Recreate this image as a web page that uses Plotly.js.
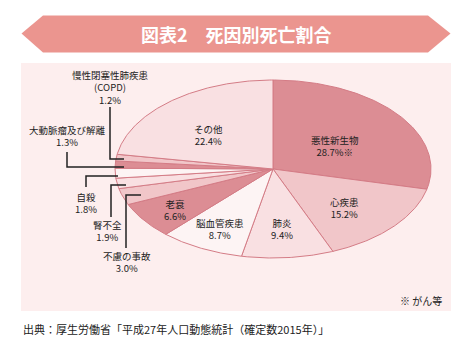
<!DOCTYPE html>
<html>
<head>
<meta charset="utf-8">
<script src="https://cdn.plot.ly/plotly-3.0.1.min.js"></script>
<style>html,body{margin:0;padding:0;background:#fff;}#chart{width:472px;height:343px;}</style>
</head>
<body>
<div id="chart"></div>
<script>
// ---- data ----
var categories = ['悪性新生物','心疾患','肺炎','脳血管疾患','老衰','不慮の事故','腎不全','自殺','大動脈瘤及び解離','慢性閉塞性肺疾患<br>(COPD)','その他'];
var values = [28.7, 15.2, 9.4, 8.7, 6.6, 3.0, 1.9, 1.8, 1.3, 1.2, 22.4];
var suffixes = ['※','','','','','','','','','',''];
var titleText = '図表2　死因別死亡割合';
var noteText = '※ がん等';
var sourceText = '出典：厚生労働省「平成27年人口動態統計（確定数2015年）」';

// ---- styles / layout ----
var W = 472, H = 343;
var CX = 273, CY = 169, RX = 158, RY = 89;
var palette = ['#dc8d94', '#f1c6c9', '#f9e0e2', '#fdf4f4'];
var edge = '#d47c86';
var FONT = '"Noto Sans CJK JP", "Noto Sans", sans-serif';
// label positions (pixels) for each category
var labelPos = [[335,146],[344,208],[282,229],[220,229],[175,210],[127,262],[107,231],[86,203],[67,136],[110,87],[208,135]];
// leader line paths (pixels) for outside labels
var leaders = {
  5: [[141,195],[126,195],[126,248]],
  6: [[126,185],[111,185],[111,217]],
  7: [[118,176],[86,176],[86,187]],
  8: [[124,167],[67,167],[67,152]],
  9: [[124,159],[110,159],[110,107]]
};

function px(x){ return x / W; }
function py(y){ return 1 - y / H; }

var total = values.reduce(function(a,b){return a+b;},0);
var traces = [];
var cum = 0;
for (var i = 0; i < values.length; i++) {
  var a0 = cum / total * 2 * Math.PI;
  cum += values[i];
  var a1 = cum / total * 2 * Math.PI;
  var xs = [0], ys = [0];
  var n = Math.max(4, Math.ceil((a1 - a0) / 0.01));
  for (var k = 0; k <= n; k++) {
    var t = a0 + (a1 - a0) * k / n;
    xs.push(Math.sin(t)); ys.push(Math.cos(t));
  }
  xs.push(0); ys.push(0);
  traces.push({
    type: 'scatter', mode: 'lines', x: xs, y: ys, fill: 'toself',
    fillcolor: palette[i % 4], line: {color: edge, width: 1},
    hoverinfo: 'text', text: categories[i], showlegend: false
  });
}

var shapes = [];
// panel
shapes.push({type:'rect', xref:'paper', yref:'paper', x0:px(21), x1:px(451), y0:py(63), y1:py(311),
  fillcolor:'#fdeeee', line:{width:0}, layer:'below'});
// banner
var bp = [[21.5,33.5],[43,15.5],[428,15.5],[450.5,33.5],[428,52.5],[43,52.5]];
var path = bp.map(function(p,j){return (j?'L':'M') + px(p[0]) + ',' + py(p[1]);}).join(' ') + ' Z';
shapes.push({type:'path', xref:'paper', yref:'paper', path:path, fillcolor:'#eb958f', line:{width:0}, layer:'below'});
// leaders
Object.keys(leaders).forEach(function(key){
  var pts = leaders[key];
  var p = pts.map(function(q,j){return (j?'L':'M') + px(q[0]) + ',' + py(q[1]);}).join(' ');
  shapes.push({type:'path', xref:'paper', yref:'paper', path:p, line:{color:'#222', width:1.5}});
});

var annotations = [];
for (var i = 0; i < categories.length; i++) {
  annotations.push({
    xref:'paper', yref:'paper', x:px(labelPos[i][0]), y:py(labelPos[i][1]),
    xanchor:'center', yanchor:'middle', showarrow:false, align:'center',
    text: categories[i] + '<br>' + values[i].toFixed(1) + '%' + suffixes[i],
    font:{family:FONT, size:9.5, color:'#222'}
  });
}
annotations.push({xref:'paper', yref:'paper', x:px(236), y:py(34), xanchor:'center', yanchor:'middle',
  showarrow:false, text:'<b>'+titleText+'</b>', font:{family:FONT, size:18, color:'#fff'}});
annotations.push({xref:'paper', yref:'paper', x:px(444), y:py(300), xanchor:'right', yanchor:'middle',
  showarrow:false, text:noteText, font:{family:FONT, size:10, color:'#222'}});
annotations.push({xref:'paper', yref:'paper', x:px(21), y:py(329), xanchor:'left', yanchor:'middle',
  showarrow:false, text:sourceText, font:{family:FONT, size:11, color:'#222'}});

var layout = {
  width: W, height: H,
  margin: {l:0, r:0, t:0, b:0, pad:0},
  paper_bgcolor: '#fff', plot_bgcolor: 'rgba(0,0,0,0)',
  xaxis: {range:[-CX/RX, (W-CX)/RX], visible:false, fixedrange:true},
  yaxis: {range:[-(H-CY)/RY, CY/RY], visible:false, fixedrange:true},
  shapes: shapes, annotations: annotations, showlegend:false
};
Plotly.newPlot('chart', traces, layout, {staticPlot:true, displayModeBar:false});
</script>
</body>
</html>
